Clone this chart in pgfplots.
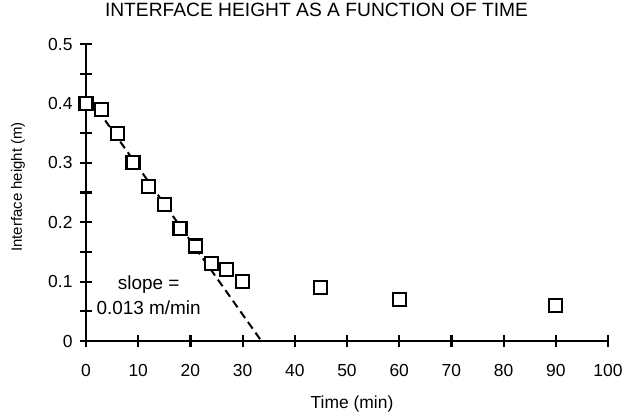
\documentclass[border=0pt]{standalone}
\usepackage{fontspec}
\setmainfont{Liberation Sans}
\usepackage{pgfplots}
\pgfplotsset{compat=1.18}
\begin{document}
\begin{tikzpicture}
\useasboundingbox (-86bp,-74bp) rectangle (538bp,341bp);
\begin{axis}[
  at={(0,0)}, anchor=south west,
  scale only axis, width=522bp, height=297bp,
  xmin=0, xmax=100, ymin=0, ymax=0.5,
  axis x line=bottom, axis y line=left,
  axis line style={-, line width=2.2bp},
  xtick={0,10,...,100},
  ytick={0,0.1,...,0.5},
  minor y tick num=1,
  tick align=center,
  major tick length=12bp, minor tick length=12bp,
  every tick/.style={black, line width=2.2bp},
  /pgf/number format/assume math mode=true,
  yticklabel style={/pgf/number format/fixed, /pgf/number format/precision=1},
  tick label style={font=\fontsize{17.5}{20}\selectfont},
  xticklabel style={yshift=-14bp},
  yticklabel style={xshift=-4bp},
  title={INTERFACE HEIGHT AS A FUNCTION OF TIME},
  title style={at={(axis description cs:0.4416,1)}, anchor=center, yshift=28bp, font=\fontsize{19.3}{22}\selectfont},
  xlabel={Time (min)},
  xlabel style={at={(axis description cs:0.5096,0)}, anchor=center, yshift=-63bp, font=\fontsize{17.5}{20}\selectfont},
  ylabel={Interface height (m)},
  ylabel style={at={(axis description cs:-0.1303,0.5185)}, anchor=center, rotate=0, font=\fontsize{15}{17}\selectfont},
  clip=false,
]
\addplot[only marks, mark=square*, mark size=6.5bp,
  mark options={fill=white, draw=black, line width=2.1bp}] coordinates {
  (0,0.40) (3,0.39) (6,0.35) (9,0.30) (12,0.26) (15,0.23) (18,0.19)
  (21,0.16) (24,0.13) (27,0.12) (30,0.10) (45,0.09) (60,0.07) (90,0.06)
};
\addplot[black, line width=2bp, dash pattern=on 8bp off 5bp, no marks] coordinates {
  (0.8,0.407) (33.6,0)
};
\node[align=center, font=\fontsize{19}{25}\selectfont] at (axis cs:12,0.0766) {slope =\\0.013 m/min};
\end{axis}
\end{tikzpicture}
\end{document}
